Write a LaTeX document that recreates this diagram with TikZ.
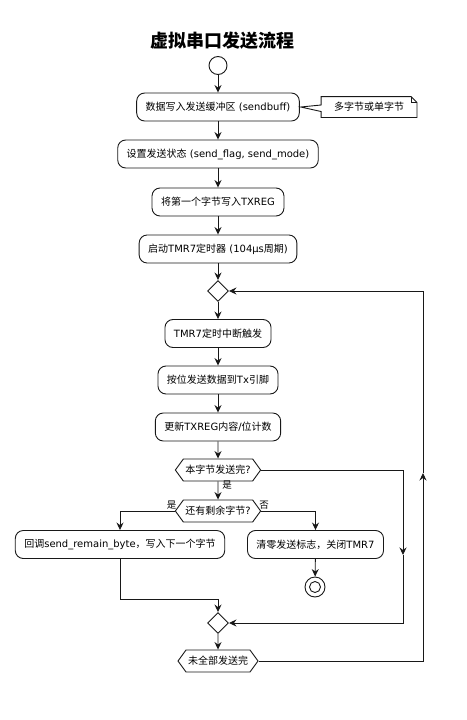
\documentclass[tikz,border=0pt]{standalone}
\usepackage{fontspec}
\setmainfont{DejaVu Sans}
\newfontfamily\cjk{Noto Sans CJK SC}
\usetikzlibrary{arrows.meta,shapes.geometric,shapes.symbols}
\newcommand\zh[1]{{\cjk #1}}
\definecolor{ln}{HTML}{181818}
\tikzset{
  base/.style={draw=ln, line width=0.9pt, text=black, font=\fontsize{10}{12}\selectfont},
  act/.style={base, rounded corners=8pt, minimum height=28pt, inner xsep=9pt, inner ysep=0pt},
  hex/.style={base, signal, signal to=east and west, signal pointer angle=108, minimum height=22pt, inner xsep=2pt, inner ysep=0pt},
  dia/.style={base, diamond, minimum width=21pt, minimum height=21pt, inner sep=0pt},
  arr/.style={draw=ln, line width=0.9pt, -{Stealth[length=7.5pt,width=7pt,inset=2.5pt]}},
  lnk/.style={draw=ln, line width=0.9pt},
  lbl/.style={font=\fontsize{9.5}{11}\selectfont, inner sep=0pt}
}
\begin{document}
\begin{tikzpicture}[x=1pt,y=-1pt]
\useasboundingbox (0,0) rectangle (466,720);
\node (title) at (222,41) {\cjk\fontsize{18}{20}\selectfont\bfseries 虚拟串口发送流程};
\node[base, circle, minimum size=18pt, inner sep=0pt] (start) at (218,65.5) {};
\node[act] (n1) at (218,107) {\zh{数据写入发送缓冲区} (sendbuff)};
\node[base, draw=none, minimum width=95pt, minimum height=20pt, inner sep=0pt] (nt) at (369,107) {\zh{多字节或单字节}};
\draw[lnk] (nt.north west) -- ([xshift=-6pt]nt.north east) -- ([yshift=-6pt]nt.north east) -- (nt.south east) -- (nt.south west) -- ([yshift=-4.5pt]nt.west) -- ([xshift=1pt]n1.east) -- ([yshift=2pt]nt.west) -- cycle;
\draw[lnk] ([xshift=-6pt]nt.north east) -- ([xshift=-6pt,yshift=-6pt]nt.north east) -- ([yshift=-6pt]nt.north east);
\node[act] (n2) at (218,154) {\zh{设置发送状态} (send\_flag, send\_mode)};
\node[act] (n3) at (218,202) {\zh{将第一个字节写入}TXREG};
\node[act] (n4) at (218,249) {\zh{启动}TMR7\zh{定时器} (104μs\zh{周期})};
\node[dia] (d1) at (218,291) {};
\node[act] (n5) at (218,333.5) {TMR7\zh{定时中断触发}};
\node[act] (n6) at (218,380) {\zh{按位发送数据到}Tx\zh{引脚}};
\node[act] (n7) at (218,427) {\zh{更新}TXREG\zh{内容}/\zh{位计数}};
\node[hex] (h1) at (218,470) {\zh{本字节发送完}?};
\node[hex] (h2) at (218,511) {\zh{还有剩余字节}?};
\node[act] (n8) at (120,544.5) {\zh{回调}send\_remain\_byte\zh{，写入下一个字节}};
\node[act] (n9) at (315.5,544.5) {\zh{清零发送标志，关闭}TMR7};
\node[base, circle, minimum size=20pt, inner sep=0pt] (end) at (315,587) {};
\node[base, circle, minimum size=11pt, inner sep=0pt] (endin) at (315,587) {};
\node[dia] (d2) at (218,623) {};
\node[hex] (h3) at (218,661) {\zh{未全部发送完}};
\node[lbl] (l1) at (227,485.5) {\zh{是}};
\node[lbl] (l2) at (171.5,505) {\zh{是}};
\node[lbl] (l3) at (264,505) {\zh{否}};
\coordinate (m8) at (120,599);
\coordinate (r1) at (403,555);
\coordinate (r2) at (423,473);
\draw[arr] (start) -- (n1);
\draw[arr] (n1) -- (n2);
\draw[arr] (n2) -- (n3);
\draw[arr] (n3) -- (n4);
\draw[arr] (n4) -- (d1);
\draw[arr] (d1) -- (n5);
\draw[arr] (n5) -- (n6);
\draw[arr] (n6) -- (n7);
\draw[arr] (n7) -- (h1);
\draw[arr] (h1) -- (h2);
\draw[arr] (h2.west) -| (n8.north);
\draw[arr] (h2.east) -| (n9.north);
\draw[arr] (n9) -- (end);
\draw[arr] (n8.south) -- (m8) -| (d2.north);
\draw[arr] (h1.east) -| (r1);
\draw[arr] (r1) |- (d2.east);
\draw[arr] (d2) -- (h3);
\draw[arr] (h3.east) -| (r2);
\draw[arr] (r2) |- (d1.east);
\end{tikzpicture}
\end{document}
